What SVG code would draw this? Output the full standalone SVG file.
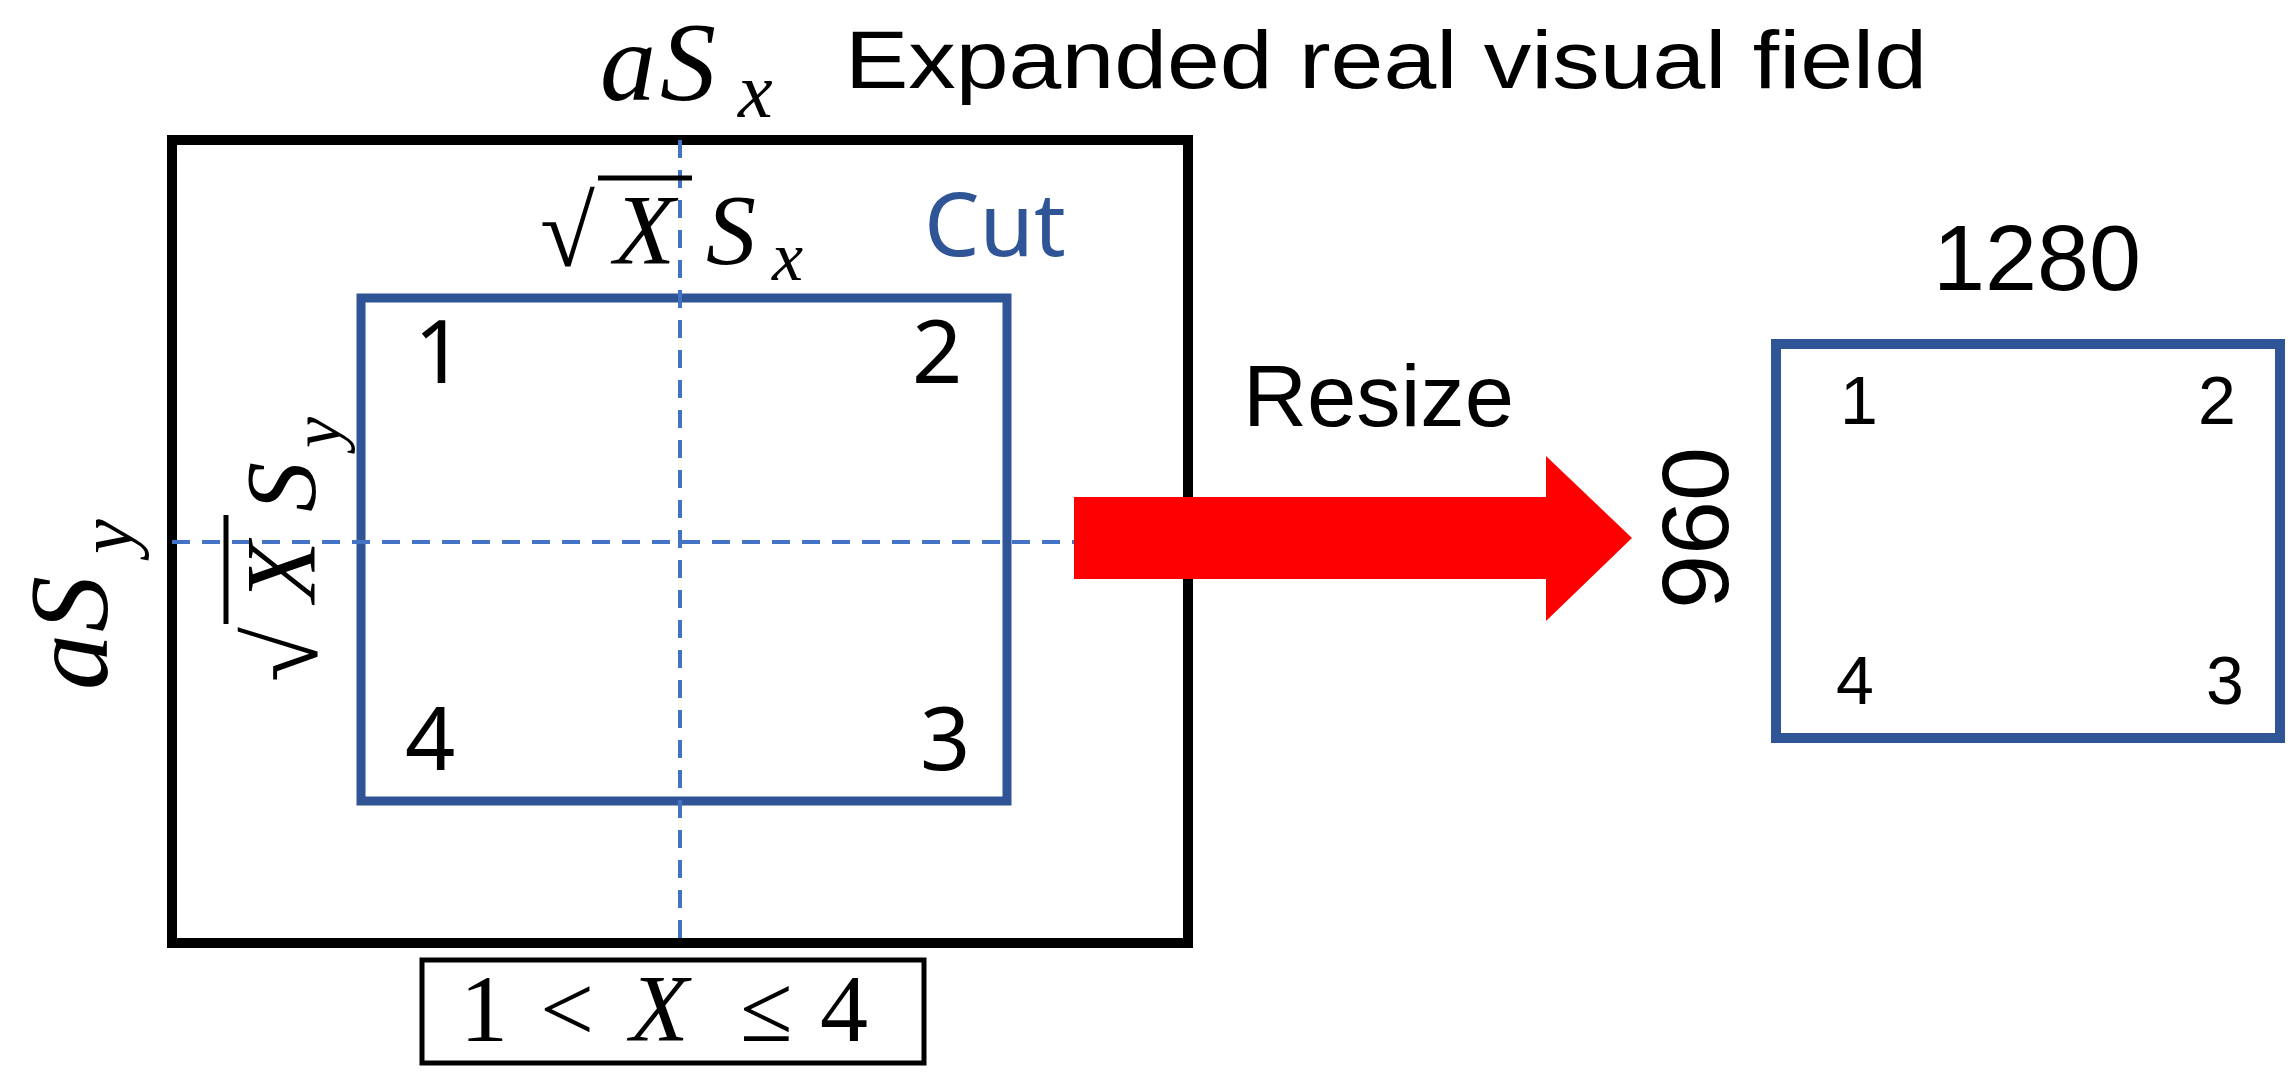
<svg xmlns="http://www.w3.org/2000/svg" width="2292" height="1076" viewBox="0 0 2292 1076">
<style>
.m{font-family:"Liberation Serif","DejaVu Serif",serif;font-style:italic;fill:#000}
.mr{font-family:"Liberation Serif","DejaVu Serif",serif;fill:#000}
.s{font-family:"Liberation Sans","Noto Sans",sans-serif;fill:#000}
.n{font-family:"Noto Sans","Liberation Sans",sans-serif;fill:#000;font-size:88px}
.rn{font-family:"Liberation Sans",sans-serif;fill:#000;font-size:68px}
.dash{stroke:#4472C4;stroke-width:4;stroke-dasharray:18 12;fill:none}
</style>
<rect width="2292" height="1076" fill="#fff"/>
<g id="outer"><rect x="172" y="140" width="1016" height="803" fill="none" stroke="#000" stroke-width="10"/></g>
<g id="cut"><rect x="361" y="298" width="646" height="503" fill="none" stroke="#2F5597" stroke-width="9"/>
<text class="n" x="414" y="383">1</text><text class="n" x="912" y="383">2</text><text class="n" x="405" y="770">4</text><text class="n" x="920" y="770">3</text>
<text x="924" y="256" font-family="Noto Sans,Liberation Sans,sans-serif" font-size="88" fill="#2F5597">Cut</text></g>
<g id="connectors">
<line class="dash" x1="680" y1="140" x2="680" y2="943"/>
<line class="dash" x1="172" y1="542" x2="1074" y2="542"/>
<polygon points="1074,497 1546,497 1546,456 1632,538 1546,621 1546,579 1074,579" fill="#FF0000"/>
</g>
<g id="labels">
<text class="m" x="600" y="100" font-size="112">a</text><text class="m" x="660" y="100" font-size="112">S</text><text class="m" x="738" y="117" font-size="78">x</text>
<text class="s" x="845" y="88" font-size="82" textLength="1082" lengthAdjust="spacingAndGlyphs">Expanded real visual field</text>
<text class="mr" x="540" y="266" font-size="100">√</text><line x1="598" y1="178" x2="692" y2="178" stroke="#000" stroke-width="5"/>
<text class="m" x="614" y="263" font-size="100">X</text><text class="m" x="706" y="263" font-size="100">S</text><text class="m" x="772" y="280" font-size="70">x</text>
<g transform="translate(107,690) rotate(-90)"><text class="m" x="0" y="0" font-size="112">a</text><text class="m" x="58" y="0" font-size="112">S</text><text class="m" x="136" y="25" font-size="78">y</text></g>
<g transform="translate(314,680) rotate(-90)"><text class="mr" x="-2" y="3" font-size="100">√</text><line x1="56" y1="-88" x2="165" y2="-88" stroke="#000" stroke-width="5"/>
<text class="m" x="78" y="0" font-size="100">X</text><text class="m" x="168" y="0" font-size="100">S</text><text class="m" x="232" y="26" font-size="70">y</text></g>
<g id="cond"><rect x="422" y="960" width="502" height="103" fill="none" stroke="#000" stroke-width="5"/>
<text class="mr" x="460" y="1041" font-size="96">1</text><text class="mr" x="540" y="1041" font-size="96">&lt;</text><text class="m" x="630" y="1041" font-size="96">X</text><text class="mr" x="740" y="1041" font-size="96">≤</text><text class="mr" x="820" y="1041" font-size="96">4</text></g>
<text class="s" x="1243" y="426" font-size="88" textLength="271" lengthAdjust="spacingAndGlyphs">Resize</text>
<text class="s" x="1933" y="290" font-size="92" textLength="208" lengthAdjust="spacingAndGlyphs">1280</text>
<text class="s" transform="translate(1728,528) rotate(-90)" x="0" y="0" text-anchor="middle" font-size="95" textLength="162" lengthAdjust="spacingAndGlyphs">960</text>
</g>
<g id="resized"><rect x="1776" y="344" width="504" height="394" fill="none" stroke="#2F5597" stroke-width="10"/>
<text class="rn" x="1840" y="424">1</text><text class="rn" x="2198" y="424">2</text><text class="rn" x="1836" y="704">4</text><text class="rn" x="2206" y="704">3</text></g>
</svg>
